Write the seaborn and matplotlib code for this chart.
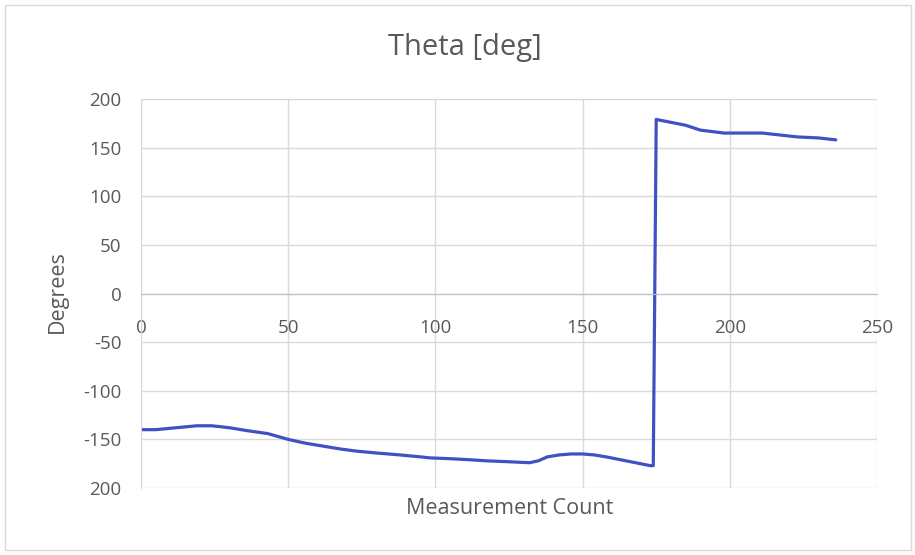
import matplotlib
matplotlib.use("Agg")
import matplotlib.pyplot as plt
import seaborn as sns
import pandas as pd
from matplotlib.patches import Rectangle

# Data
measurement_count = [0, 5, 12, 19, 24, 30, 36, 43, 50, 56, 62, 68, 73, 80, 88, 95, 98,
                     106, 112, 117, 125, 132, 135, 138, 142, 146, 150, 154, 158, 163, 168, 173,
                     174, 175, 180, 185, 190, 198, 205, 211, 217, 223, 230, 236]
theta_deg = [-140, -140, -138, -136, -136, -138, -141, -144, -150, -154, -157, -160, -162, -164,
             -166, -168, -169, -170, -171, -172, -173, -174, -172, -168, -166, -165, -165, -166,
             -168, -171, -174, -177,
             -177, 179, 176, 173, 168, 165, 165, 165, 163, 161, 160, 158]

x_ticks = [0, 50, 100, 150, 200, 250]
y_ticks = [-200, -150, -100, -50, 0, 50, 100, 150, 200]
y_tick_labels = ["200", "-150", "-100", "-50", "0", "50", "100", "150", "200"]

title = "Theta [deg]"
x_label = "Measurement Count"
y_label = "Degrees"

df = pd.DataFrame({"count": measurement_count, "theta": theta_deg})

sns.set_style("white")
plt.rcParams["font.family"] = ["Open Sans", "DejaVu Sans"]

fig = plt.figure(figsize=(9.15, 5.55), dpi=100)
ax = fig.add_axes([0.1541, 0.1207, 0.8044, 0.7009])

grid_c = "#d9d9d9"
text_c = "#595959"

sns.lineplot(data=df, x="count", y="theta", ax=ax, color="#3f51c4", linewidth=2.3,
             sort=False, estimator=None)

ax.set_xlim(0, 250)
ax.set_ylim(-200, 200)
ax.set_xticks(x_ticks)
ax.set_yticks(y_ticks)
ax.set_yticklabels(y_tick_labels)
ax.grid(True, color=grid_c, linewidth=1.0)
ax.set_axisbelow(True)

for s in ["top", "right"]:
    ax.spines[s].set_visible(False)
ax.spines["left"].set_color(grid_c)
ax.spines["bottom"].set_position(("data", 0))
ax.spines["bottom"].set_color("#bfbfbf")
ax.tick_params(axis="both", length=0, labelsize=13.5, labelcolor=text_c)
ax.tick_params(axis="x", pad=18)
ax.tick_params(axis="y", pad=14)

ax.set_xlabel("")
ax.set_ylabel("")
fig.text(510 / 915, 1 - 509 / 555, x_label, ha="center", va="center",
         fontsize=15.5, color=text_c)
fig.text(57 / 915, 1 - 292 / 555, y_label, ha="center", va="center", rotation=90,
         fontsize=15.5, color=text_c)
fig.text(465 / 915, 1 - 47 / 555, title, ha="center", va="center", fontsize=21, color=text_c)

fig.patches.append(Rectangle((5 / 915, 5 / 555), 906 / 915, 545 / 555, transform=fig.transFigure,
                             fill=False, edgecolor="#d9d9d9", linewidth=1.0))

fig.savefig("out.png", dpi=100)
